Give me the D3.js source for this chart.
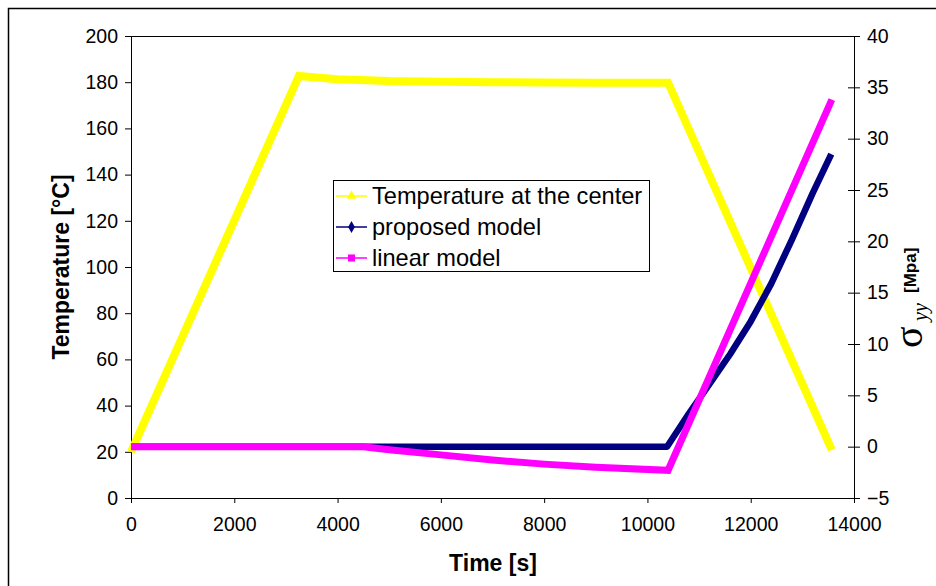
<!DOCTYPE html>
<html>
<head>
<meta charset="utf-8">
<script src="https://cdn.jsdelivr.net/npm/d3@7.9.0/dist/d3.min.js"></script>
<style>
  body { margin: 0; background: #fff; }
  svg { display: block; font-family: "Liberation Sans", Arial, sans-serif; }
</style>
</head>
<body>
<svg id="chart" width="936" height="586"></svg>
<script>
// temperature at the center (left axis, °C)
const tempTime = [0, 3250, 4000, 5000, 6000, 7000, 8000, 9000, 10400, 13570];
const tempValues = [20, 182.7, 181.3, 180.5, 180.2, 180.0, 179.9, 179.8, 179.8, 20.8];

// stress sigma_yy (right axis, MPa)
const proposedTime = [0, 4500, 10380, 10800, 11200, 11600, 12000, 12400, 12800, 13200, 13560];
const proposedValues = [0, 0, 0, 3.2, 6.1, 9.0, 12.2, 15.9, 20.2, 24.7, 28.5];
const linearTime = [0, 4500, 5000, 6000, 7000, 8000, 9000, 10400, 13570];
const linearValues = [0, 0, -0.3, -0.8, -1.3, -1.7, -2.0, -2.3, 33.8];

const xTicks = [0, 2000, 4000, 6000, 8000, 10000, 12000, 14000];
const leftTicks = [0, 20, 40, 60, 80, 100, 120, 140, 160, 180, 200];
const rightTicks = [-5, 0, 5, 10, 15, 20, 25, 30, 35, 40];

const seriesNames = ['Temperature at the center', 'proposed model', 'linear model'];
const seriesColors = ['#ffff00', '#000080', '#ff00ff'];

const svg = d3.select('#chart');
const plot = { left: 131, right: 854, top: 36, bottom: 498 };

const x = d3.scaleLinear().domain([0, 14000]).range([plot.left, plot.right]);
const yLeft = d3.scaleLinear().domain([0, 200]).range([plot.bottom, plot.top]);
const yRight = d3.scaleLinear().domain([-5, 40]).range([plot.bottom, plot.top]);

// outer chart frame (cut off at right and bottom)
svg.append('rect')
  .attr('x', 8.5).attr('y', 8.5)
  .attr('width', 1000).attr('height', 1000)
  .attr('fill', 'none')
  .attr('stroke', '#000')
  .attr('stroke-width', 1.5);

// top border of plot area
svg.append('line')
  .attr('x1', plot.left).attr('x2', plot.right)
  .attr('y1', plot.top + 0.5).attr('y2', plot.top + 0.5)
  .attr('stroke', '#000');

const tickFont = 19.5;

const xAxis = svg.append('g')
  .attr('transform', `translate(0,${plot.bottom})`)
  .call(d3.axisBottom(x).tickValues(xTicks).tickFormat(d3.format('d')).tickSizeInner(5).tickSizeOuter(0).tickPadding(14));

const leftAxis = svg.append('g')
  .attr('transform', `translate(${plot.left},0)`)
  .call(d3.axisLeft(yLeft).tickValues(leftTicks).tickSizeInner(6).tickSizeOuter(0).tickPadding(7));

const rightAxis = svg.append('g')
  .attr('transform', `translate(${plot.right},0)`)
  .call(d3.axisRight(yRight).tickValues(rightTicks).tickSizeInner(6).tickSizeOuter(0).tickPadding(7));

// right ticks cross the axis
rightAxis.selectAll('.tick line').attr('x1', -6);

[xAxis, leftAxis, rightAxis].forEach((g) => {
  g.selectAll('.domain').attr('stroke', '#000');
  g.selectAll('.tick line').attr('stroke', '#000');
  g.selectAll('.tick text')
    .attr('fill', '#000')
    .style('font-size', `${tickFont}px`)
    .style('font-family', '"Liberation Sans", Arial, sans-serif');
});

// series lines
const lineTemp = d3.line().x((d) => x(d[0])).y((d) => yLeft(d[1]));
const lineStress = d3.line().x((d) => x(d[0])).y((d) => yRight(d[1]));

svg.append('path')
  .datum(d3.zip(tempTime, tempValues))
  .attr('d', lineTemp)
  .attr('fill', 'none')
  .attr('stroke', seriesColors[0])
  .attr('stroke-width', 8);

svg.append('path')
  .datum(d3.zip(proposedTime, proposedValues))
  .attr('d', lineStress)
  .attr('fill', 'none')
  .attr('stroke', seriesColors[1])
  .attr('stroke-width', 6.5)
  .attr('stroke-linejoin', 'round');

svg.append('path')
  .datum(d3.zip(linearTime, linearValues))
  .attr('d', lineStress)
  .attr('fill', 'none')
  .attr('stroke', seriesColors[2])
  .attr('stroke-width', 7);

// axis titles
svg.append('text')
  .attr('x', 493).attr('y', 571)
  .attr('text-anchor', 'middle')
  .style('font-size', '23px')
  .style('font-weight', 'bold')
  .text('Time [s]');

svg.append('text')
  .attr('transform', 'translate(69,267) rotate(-90)')
  .attr('text-anchor', 'middle')
  .style('font-size', '23px')
  .style('font-weight', 'bold')
  .text('Temperature [°C]');

svg.append('text')
  .attr('transform', 'translate(922,348) rotate(-90)')
  .style('font-family', '"Liberation Serif", serif')
  .style('font-size', '40px')
  .text('σ');

svg.append('text')
  .attr('transform', 'translate(927,321) rotate(-90)')
  .style('font-family', '"Liberation Serif", serif')
  .style('font-style', 'italic')
  .style('font-size', '20px')
  .text('yy');

svg.append('text')
  .attr('transform', 'translate(916,293) rotate(-90)')
  .style('font-size', '17px')
  .style('font-weight', 'bold')
  .text('[Mpa]');

// legend
const legend = svg.append('g');
legend.append('rect')
  .attr('x', 333.5).attr('y', 180.5)
  .attr('width', 316).attr('height', 91)
  .attr('fill', '#fff')
  .attr('stroke', '#000');

const items = legend.selectAll('g.item')
  .data(seriesNames)
  .join('g')
  .attr('class', 'item')
  .attr('transform', (_d, i) => `translate(0,${196 + i * 31})`);

items.append('line')
  .attr('x1', 336).attr('x2', 367)
  .attr('stroke', (_d, i) => seriesColors[i])
  .attr('stroke-width', 1.5);

const symbols = [d3.symbolTriangle, d3.symbolDiamond, d3.symbolSquare];
items.append('path')
  .attr('transform', 'translate(351.5,0)')
  .attr('d', (_d, i) => d3.symbol().type(symbols[i]).size(i === 2 ? 50 : 40)())
  .attr('fill', (_d, i) => seriesColors[i]);

items.append('text')
  .attr('x', 372).attr('y', 8)
  .style('font-size', '23.6px')
  .text((d) => d);
</script>
</body>
</html>
